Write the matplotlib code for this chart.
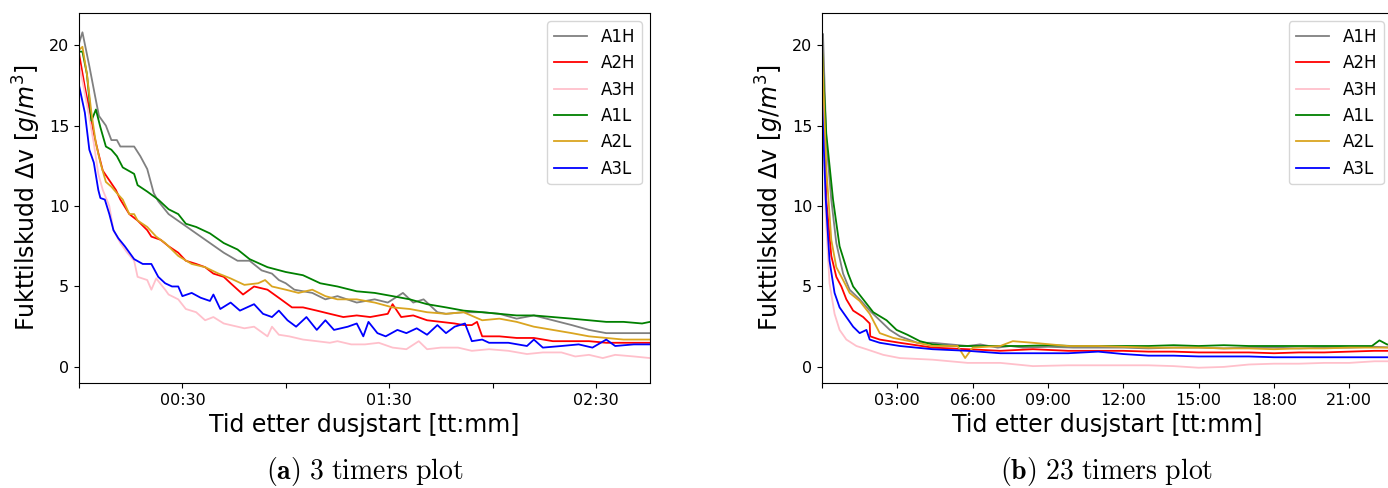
import numpy as np
import matplotlib.pyplot as plt
from matplotlib.ticker import FixedLocator, FuncFormatter

labels = ["A1H", "A2H", "A3H", "A1L", "A2L", "A3L"]
colors = ["grey", "red", "pink", "green", "goldenrod", "blue"]

# ---- (a) 3 timers plot, tid i minutter ----
a1h_t = [0, 1, 3, 4.7, 5.8, 7.8, 9.4, 11, 12, 16, 17.8, 19.8, 21.7, 23, 26, 30, 34, 38, 42, 46, 49.5, 53, 56, 58,
         60, 62.5, 67.7, 71.5, 75, 80.6, 85.8, 89.6, 94, 97, 100, 104, 106.5, 111.6, 117, 122, 127, 132, 137.5, 143,
         148, 153, 158, 165.7]
a1h_v = [20.1, 20.8, 18.7, 16.8, 15.6, 15.0, 14.1, 14.1, 13.7, 13.7, 13.1, 12.3, 10.8, 10.3, 9.5, 8.9, 8.3, 7.7, 7.1,
         6.6, 6.6, 6.0, 5.8, 5.4, 5.2, 4.8, 4.6, 4.2, 4.4, 4.0, 4.2, 4.0, 4.6, 4.0, 4.2, 3.4, 3.3, 3.4, 3.4, 3.3, 3.0,
         3.2, 2.9, 2.6, 2.3, 2.1, 2.1, 2.1]

a2h_t = [0, 1.7, 3, 4.3, 5.6, 6.9, 8.8, 10.7, 12, 14.6, 17, 19.8, 21, 23.7, 26, 28.8, 31, 34, 36.6, 39, 42, 44, 47.6,
         50.8, 54.7, 58.6, 61.8, 65, 69, 72.8, 76.7, 80.6, 84.5, 89.6, 91, 93.5, 97, 101, 105, 109, 111.6, 114, 115.5,
         117, 122, 127, 132, 137.5, 143, 148, 153, 158, 165.7]
a2h_v = [19.5, 17.4, 16.0, 14.5, 13.3, 12.2, 11.6, 11.0, 10.4, 9.5, 9.1, 8.5, 8.1, 7.9, 7.5, 7.1, 6.6, 6.4, 6.2, 5.8,
         5.6, 5.2, 4.5, 5.0, 4.8, 4.2, 3.7, 3.7, 3.5, 3.3, 3.1, 3.2, 3.1, 3.3, 3.9, 3.1, 3.2, 2.9, 2.8, 2.7, 2.6, 2.6,
         2.8, 1.9, 1.9, 1.8, 1.8, 1.6, 1.6, 1.6, 1.5, 1.5, 1.5]

a3h_t = [0, 1.7, 3, 4.3, 5.6, 6.9, 8.8, 10, 12, 14, 16, 17, 19.8, 21, 22.4, 25, 26, 28.8, 31, 34, 36.6, 39, 42, 44, 48,
         50.8, 54.7, 56, 58, 61, 65, 69, 72.8, 75, 79, 83, 87, 91, 95, 98.6, 101, 105, 110, 114, 119, 124.6, 130,
         134.6, 140, 144, 148, 152, 155.6, 161, 165.7]
a3h_v = [18.9, 17.0, 15.5, 13.9, 12.0, 11.0, 10.0, 8.5, 7.7, 7.1, 6.6, 5.6, 5.4, 4.8, 5.5, 4.8, 4.5, 4.2, 3.6, 3.4,
         2.9, 3.1, 2.7, 2.6, 2.4, 2.5, 1.9, 2.5, 2.0, 1.9, 1.7, 1.6, 1.5, 1.6, 1.4, 1.4, 1.5, 1.2, 1.1, 1.6, 1.1, 1.2,
         1.2, 1.0, 1.1, 1.0, 0.8, 0.9, 0.9, 0.65, 0.75, 0.55, 0.75, 0.65, 0.55]

a1l_t = [0, 1, 2.3, 3.6, 4.9, 6.2, 7.8, 9.4, 11, 12.7, 16, 17, 19.8, 23, 26, 28.8, 31, 34, 38, 42, 46, 49.5, 54.7, 60,
         65, 70, 75, 80.6, 85.8, 91, 96, 101, 106.5, 111.6, 117, 122, 127, 132, 137.5, 143, 148, 153, 158, 163.4,
         165.7]
a1l_v = [19.6, 19.6, 18.2, 15.3, 16.0, 14.9, 13.7, 13.5, 13.1, 12.4, 12.0, 11.3, 10.9, 10.4, 9.8, 9.5, 8.9, 8.7, 8.3,
         7.7, 7.3, 6.7, 6.2, 5.9, 5.7, 5.2, 5.0, 4.7, 4.6, 4.4, 4.2, 3.9, 3.7, 3.5, 3.4, 3.3, 3.2, 3.2, 3.1, 3.0, 2.9,
         2.8, 2.8, 2.7, 2.8]

a2l_t = [0, 1, 2.3, 3.6, 4.9, 6.2, 7.8, 9.4, 11, 12.7, 14.6, 16, 17, 19.8, 22.4, 25, 28.8, 32.7, 36.6, 40.5, 44, 48,
         52, 54, 56, 60, 63.7, 67.7, 71.5, 75, 80.6, 85.8, 91, 96, 101, 106.5, 111.6, 117, 122, 127, 132, 137.5, 143,
         148, 153, 158, 165.7]
a2l_v = [19.7, 19.9, 18.2, 15.8, 13.9, 12.7, 11.5, 11.2, 10.8, 10.4, 9.5, 9.5, 9.1, 8.7, 8.1, 7.7, 6.9, 6.4, 6.2, 5.8,
         5.5, 5.1, 5.2, 5.4, 5.0, 4.8, 4.6, 4.8, 4.4, 4.2, 4.2, 4.0, 3.7, 3.6, 3.4, 3.3, 3.4, 2.9, 3.0, 2.8, 2.5, 2.3,
         2.1, 1.9, 1.8, 1.7, 1.7]

a3l_t = [0, 1.7, 3, 4.3, 5.6, 6.2, 7.5, 8.8, 10, 11.4, 13.3, 16, 18.5, 21, 23, 25, 27, 28.8, 30, 32.7, 35.3, 38, 39, 41,
         44, 46.7, 50.8, 53.4, 56, 58, 60.5, 63, 66, 69, 71.5, 74, 78, 80.6, 82.5, 84, 86.6, 89, 92.4, 95, 98, 101,
         104, 106.5, 109, 112, 114, 117, 119, 124.6, 130, 132, 134.6, 140, 145, 149, 153, 155.6, 161, 165.7]
a3l_v = [17.5, 15.8, 13.5, 12.7, 11.0, 10.5, 10.4, 9.5, 8.5, 8.0, 7.5, 6.7, 6.4, 6.4, 5.6, 5.2, 5.0, 5.0, 4.4, 4.6,
         4.3, 4.1, 4.5, 3.6, 4.0, 3.5, 3.9, 3.3, 3.1, 3.5, 2.9, 2.5, 3.1, 2.3, 2.9, 2.3, 2.5, 2.7, 1.9, 2.8, 2.1, 1.9,
         2.3, 2.1, 2.4, 2.0, 2.6, 2.1, 2.5, 2.7, 1.6, 1.7, 1.5, 1.5, 1.3, 1.7, 1.2, 1.3, 1.4, 1.2, 1.7, 1.3, 1.4, 1.4]

# ---- (b) 23 timers plot, tid i timer ----
b_a1h_t = [0, 0.04, 0.17, 0.37, 0.57, 0.84, 1.1, 1.5, 1.9, 2.3, 2.7, 3.1, 3.8, 4.4, 5.1, 5.8, 6.3, 7.0, 7.5, 8.0, 9.0,
           10.0, 11.0, 12.0, 13.0, 14.0, 15.0, 16.0, 17.0, 18.0, 19.0, 20.0, 21.0, 22.0, 22.8]
b_a1h_v = [20.1, 20.7, 14.1, 10.4, 7.7, 5.8, 4.8, 4.2, 3.5, 2.9, 2.3, 1.9, 1.5, 1.5, 1.4, 1.3, 1.4, 1.2, 1.3, 1.2, 1.25,
           1.2, 1.2, 1.2, 1.15, 1.2, 1.2, 1.15, 1.2, 1.2, 1.15, 1.2, 1.2, 1.25, 1.2]

b_a2h_t = [0, 0.17, 0.37, 0.57, 0.77, 0.97, 1.24, 1.64, 1.77, 1.9, 1.92, 2.3, 3.1, 4.4, 5.8, 7.1, 8.4, 9.8, 11.0, 12.0,
           13.0, 14.0, 15.0, 16.0, 17.0, 18.0, 19.0, 20.0, 21.0, 22.0, 22.8]
b_a2h_v = [19.5, 10.4, 6.9, 5.6, 5.0, 4.2, 3.5, 3.1, 2.9, 2.7, 1.9, 1.7, 1.5, 1.2, 1.1, 1.0, 1.1, 1.0, 1.0, 1.0, 0.95,
           0.95, 0.9, 0.9, 0.9, 0.85, 0.9, 0.9, 0.95, 1.0, 1.0]

b_a3h_t = [0, 0.15, 0.3, 0.5, 0.7, 0.97, 1.37, 1.77, 2.44, 3.1, 4.4, 5.8, 7.1, 8.4, 9.8, 11.0, 12.0, 13.0, 14.0, 15.0,
           16.0, 17.0, 18.0, 19.0, 20.0, 21.0, 22.0, 22.8]
b_a3h_v = [18.7, 9.3, 5.2, 3.3, 2.3, 1.7, 1.3, 1.1, 0.75, 0.55, 0.45, 0.25, 0.25, 0.05, 0.1, 0.1, 0.1, 0.1, 0.05, -0.05,
           0.0, 0.15, 0.2, 0.2, 0.25, 0.25, 0.35, 0.35]

b_a1l_t = [0, 0.17, 0.44, 0.7, 1.04, 1.24, 1.64, 2.04, 2.57, 2.97, 3.4, 3.9, 4.4, 5.1, 6.0, 7.0, 8.0, 9.0, 10.0, 11.0,
           12.0, 13.0, 14.0, 15.0, 16.0, 17.0, 18.0, 19.0, 20.0, 21.0, 21.9, 22.2, 22.5, 22.8]
b_a1l_v = [19.7, 14.5, 10.4, 7.5, 5.8, 5.0, 4.2, 3.4, 2.9, 2.3, 2.0, 1.6, 1.4, 1.3, 1.3, 1.3, 1.3, 1.35, 1.3, 1.3, 1.3,
           1.3, 1.35, 1.3, 1.35, 1.3, 1.3, 1.3, 1.3, 1.3, 1.3, 1.65, 1.4, 1.3]

b_a2l_t = [0, 0.17, 0.37, 0.57, 0.84, 1.1, 1.5, 1.9, 2.3, 2.84, 3.5, 4.4, 5.4, 5.7, 6.0, 7.1, 7.6, 8.4, 9.8, 11.0,
           12.0, 13.0, 14.0, 15.0, 16.0, 17.0, 18.0, 19.0, 20.0, 21.0, 22.0, 22.8]
b_a2l_v = [19.9, 12.4, 7.9, 6.2, 5.4, 4.6, 4.1, 3.3, 2.1, 1.8, 1.6, 1.3, 1.3, 0.55, 1.2, 1.3, 1.6, 1.5, 1.3, 1.3, 1.25,
           1.2, 1.2, 1.2, 1.15, 1.15, 1.1, 1.15, 1.15, 1.2, 1.2, 1.2]

b_a3l_t = [0, 0.15, 0.3, 0.5, 0.7, 0.97, 1.24, 1.5, 1.77, 1.9, 2.3, 3.1, 4.4, 5.8, 7.1, 8.4, 9.8, 11.0, 12.0, 13.0,
           14.0, 15.0, 16.0, 17.0, 18.0, 19.0, 20.0, 21.0, 22.0, 22.8]
b_a3l_v = [16.6, 10.4, 6.6, 4.6, 3.7, 3.1, 2.5, 2.1, 2.3, 1.7, 1.5, 1.3, 1.1, 1.0, 0.85, 0.85, 0.85, 0.95, 0.8, 0.7,
           0.7, 0.65, 0.65, 0.65, 0.6, 0.6, 0.6, 0.6, 0.6, 0.6]

left_series = [(a1h_t, a1h_v), (a2h_t, a2h_v), (a3h_t, a3h_v), (a1l_t, a1l_v), (a2l_t, a2l_v), (a3l_t, a3l_v)]
right_series = [(b_a1h_t, b_a1h_v), (b_a2h_t, b_a2h_v), (b_a3h_t, b_a3h_v),
                (b_a1l_t, b_a1l_v), (b_a2l_t, b_a2l_v), (b_a3l_t, b_a3l_v)]

fig = plt.figure(figsize=(13.88, 4.88), dpi=100)
ax1 = fig.add_axes([79/1388, 105/488, 571/1388, 370/488])
ax2 = fig.add_axes([822/1388, 105/488, 570/1388, 370/488])

for (t, v), lab, c in zip(left_series, labels, colors):
    ax1.plot(t, v, color=c, label=lab, lw=1.3)
for (t, v), lab, c in zip(right_series, labels, colors):
    ax2.plot(t, v, color=c, label=lab, lw=1.3)


# tidsformat
def fmt_min(x, pos):
    if int(round(x)) % 60 != 30:
        return ""
    return "%02d:%02d" % (int(x // 60), int(x % 60))


def fmt_hour(x, pos):
    if x == 0:
        return ""
    return "%02d:00" % int(x)


ax1.set_xlim(0, 165.7)
ax1.xaxis.set_major_locator(FixedLocator([0, 30, 60, 90, 120, 150]))
ax1.xaxis.set_major_formatter(FuncFormatter(fmt_min))
ax2.set_xlim(0, 22.7)
ax2.xaxis.set_major_locator(FixedLocator([0, 3, 6, 9, 12, 15, 18, 21]))
ax2.xaxis.set_major_formatter(FuncFormatter(fmt_hour))

for ax in (ax1, ax2):
    ax.set_ylim(-1, 22)
    ax.set_yticks([0, 5, 10, 15, 20])
    ax.tick_params(labelsize=11.5)
    ax.set_xlabel("Tid etter dusjstart [tt:mm]", fontsize=17)
    ax.set_ylabel(r"Fukttilskudd $\Delta$v [$g/m^3$]", fontsize=17)
    ax.legend(loc="upper right", fontsize=12)

# bildetekster i LaTeX-stil
fig.text(365/1388, 17/488, r"$\mathbf{(a)}\ \mathrm{3\ timers\ plot}$", ha="center", va="center",
         fontsize=20, math_fontfamily="cm")
fig.text(1107/1388, 17/488, r"$\mathbf{(b)}\ \mathrm{23\ timers\ plot}$", ha="center", va="center",
         fontsize=20, math_fontfamily="cm")

fig.savefig("out.png", dpi=100)
